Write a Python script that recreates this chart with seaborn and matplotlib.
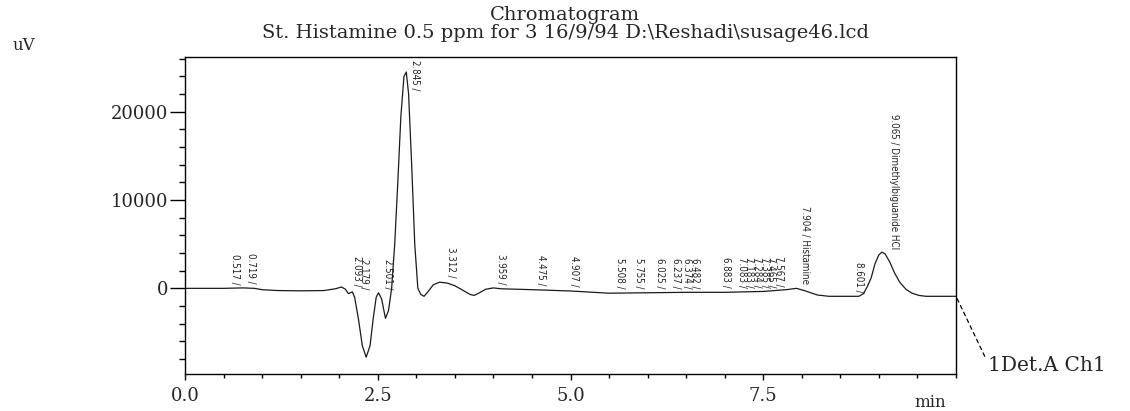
import numpy as np
import matplotlib
matplotlib.use("Agg")
import matplotlib.pyplot as plt
import seaborn as sns
from matplotlib import font_manager
from matplotlib.ticker import MultipleLocator

# trace (minutes, uV)
time_min = [0.0, 0.5, 0.75, 0.9, 1.0, 1.2, 1.5, 1.8, 1.95, 2.03, 2.08, 2.12, 2.17,
            2.2, 2.25, 2.3, 2.35, 2.4, 2.44, 2.48, 2.51, 2.55, 2.6, 2.64, 2.68,
            2.72, 2.76, 2.8, 2.84, 2.87, 2.9, 2.94, 2.98, 3.02, 3.06, 3.1, 3.15,
            3.22, 3.3, 3.4, 3.5, 3.6, 3.7, 3.75, 3.82, 3.9, 4.0, 4.1, 4.5, 5.0,
            5.5, 6.0, 6.5, 7.0, 7.5, 7.8, 7.93, 8.05, 8.2, 8.35, 8.74, 8.8, 8.85,
            8.9, 8.95, 9.0, 9.04, 9.08, 9.14, 9.2, 9.27, 9.35, 9.43, 9.52, 9.61, 10.0]
signal_uv = [0, 0, 50, 0, -150, -250, -280, -250, -50, 150, -100, -600, -400,
             -1000, -3500, -6500, -7800, -6500, -3500, -1000, -500, -1200, -3400, -2500, 0,
             5000, 12000, 19500, 24000, 24500, 22000, 14000, 5000, 0, -700, -900, -400,
             400, 700, 600, 300, -200, -700, -800, -500, -100, 50, -50, -150, -300,
             -550, -500, -450, -450, -350, -150, 0, -300, -750, -900, -900, -600, 200,
             1200, 2800, 3800, 4100, 3900, 3000, 1800, 700, -100, -550, -800, -900, -900]

peak_rt = [0.517, 0.719, 2.093, 2.179, 2.501, 2.845, 3.312, 3.959, 4.475, 4.907,
           5.508, 5.755, 6.025, 6.237, 6.374, 6.482, 6.883, 7.083, 7.183, 7.284,
           7.385, 7.465, 7.567, 7.904, 8.601, 9.065]
peak_names = [""] * 23 + ["Histamine", "", "Dimethylbiguanide HCl"]

title_text = "Chromatogram"
subtitle_text = "St. Histamine 0.5 ppm for 3 16/9/94 D:\\Reshadi\\susage46.lcd"
detector_text = "1Det.A Ch1"
label_cap = 21900

sns.set_style("ticks")
plt.rcParams["font.family"] = ["DejaVu Serif"]

names = {f.name for f in font_manager.fontManager.ttflist}
label_font = "Liberation Sans Narrow" if "Liberation Sans Narrow" in names else "DejaVu Sans"

fig = plt.figure(figsize=(11.3, 4.11), dpi=100)
ax = fig.add_axes([185 / 1130, 37 / 411, 771 / 1130, 317 / 411])

sns.lineplot(x=time_min, y=signal_uv, color="#1a1a1a", lw=0.9, ax=ax)

ax.set_xlim(0, 10)
ax.set_ylim(-9700, 26200)
ax.set_xticks([0, 2.5, 5.0, 7.5])
ax.set_xticklabels(["0.0", "2.5", "5.0", "7.5"])
ax.xaxis.set_minor_locator(MultipleLocator(0.5))
ax.yaxis.set_major_locator(MultipleLocator(10000))
ax.yaxis.set_minor_locator(MultipleLocator(2000))
ax.tick_params(axis="y", which="major", length=11, width=1, pad=1, labelsize=13, color="k")
ax.tick_params(axis="y", which="minor", length=4.5, width=1, color="k")
ax.tick_params(axis="x", which="major", length=4, width=1, pad=5, labelsize=13, color="k")
ax.tick_params(axis="x", which="minor", length=3, width=1, color="k")
for s in ax.spines.values():
    s.set_color("k")
    s.set_linewidth(1.0)

ax.set_xlabel("min", fontsize=12, va="center")
ax.xaxis.set_label_coords((930 - 185) / 771, (374 - 402) / 317)
ax.set_ylabel("uV", fontsize=12, rotation=0, va="center", ha="center")
ax.yaxis.set_label_coords((24 - 185) / 771, (374 - 45) / 317)

for rt, name in zip(peak_rt, peak_names):
    h = min(np.interp(rt, time_min, signal_uv), label_cap)
    txt = f"{rt:.3f} / {name}" if name else f"{rt:.3f} /"
    ax.annotate(txt, xy=(rt, h), xytext=(4, 3), textcoords="offset points",
                rotation=270, ha="left", va="bottom", fontsize=7,
                family=label_font, fontstretch="condensed", color="#222222")

ax.annotate(detector_text, xy=(10, signal_uv[-1]), xycoords="data",
            xytext=((988 - 185) / 771, (374 - 365) / 317), textcoords="axes fraction",
            ha="left", va="center", fontsize=14.5, annotation_clip=False,
            arrowprops=dict(arrowstyle="-", ls=(0, (3, 3)), color="k", lw=0.9,
                            shrinkA=0, shrinkB=0, relpos=(0, 0.6)))

fig.text(0.5, 1 - 15 / 411, title_text, ha="center", va="center", fontsize=14)
fig.text(0.5, 1 - 33 / 411, subtitle_text, ha="center", va="center", fontsize=14)

plt.savefig("out.png", dpi=100)
